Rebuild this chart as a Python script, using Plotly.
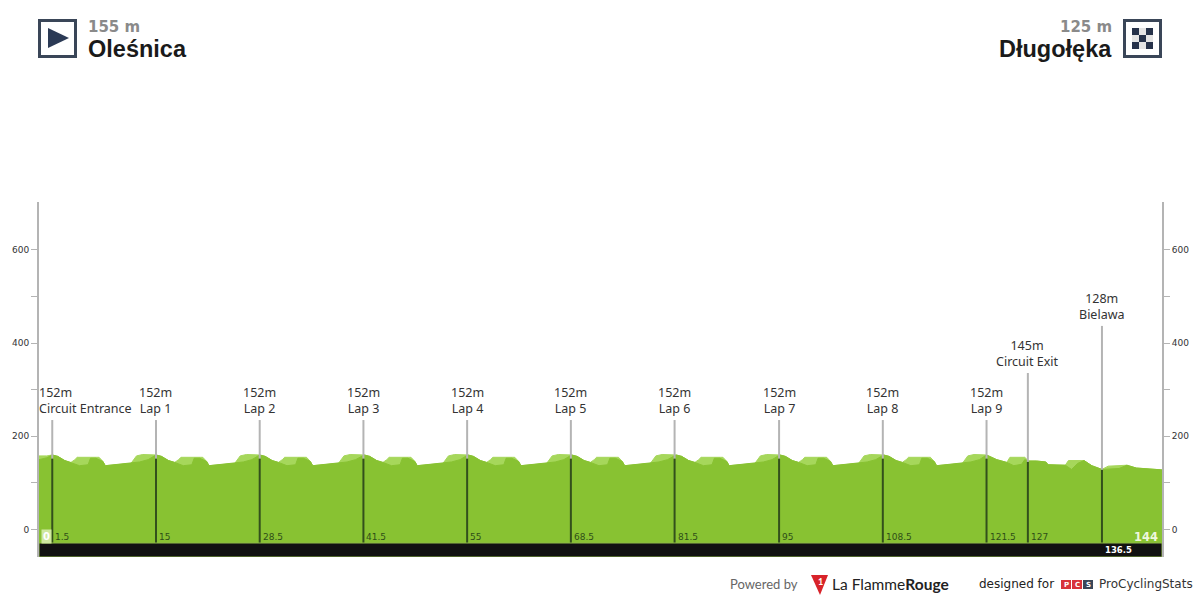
import plotly.graph_objects as go

# ---------- data ----------
LIGHT_KM = [0, 1, 1.7, 2.4, 3.3, 4.1, 4.6, 4.9, 7.7, 8.2, 8.5, 9.5, 11.8, 12.5, 13.3,
            15, 15.7, 16.6, 17.4, 17.9, 18.2, 21, 21.5, 21.8, 22.8, 25.1, 25.8, 26.6,
            28.3, 29, 29.9, 30.7, 31.2, 31.5, 34.3, 34.8, 35.1, 36.1, 38.4, 39.1, 39.9,
            41.7, 42.4, 43.3, 44.1, 44.6, 44.9, 47.7, 48.2, 48.5, 49.5, 51.8, 52.5, 53.3,
            55, 55.7, 56.6, 57.4, 57.9, 58.2, 61, 61.5, 61.8, 62.8, 65.1, 65.8, 66.6,
            68.3, 69, 69.9, 70.7, 71.2, 71.5, 74.3, 74.8, 75.1, 76.1, 78.4, 79.1, 79.9,
            81.7, 82.4, 83.3, 84.1, 84.6, 84.9, 87.7, 88.2, 88.5, 89.5, 91.8, 92.5, 93.3,
            95, 95.7, 96.6, 97.4, 97.9, 98.2, 101, 101.5, 101.8, 102.8, 105.1, 105.8, 106.6,
            108.3, 109, 109.9, 110.7, 111.2, 111.5, 114.3, 114.8, 115.1, 116.1, 118.4, 119.1, 119.9,
            121.5, 122.8, 124.1, 124.5, 126.4, 126.9, 127.9, 129.1, 129.4, 131.6, 132, 134, 135, 136.3, 137.1, 139.5, 140.7, 144]
LIGHT_M = [158, 158, 160, 157, 148, 144, 150, 155, 155, 146, 137, 139, 142, 158, 161,
           160, 157, 148, 144, 150, 155, 155, 146, 137, 139, 142, 158, 161,
           160, 157, 148, 144, 150, 155, 155, 146, 137, 139, 142, 158, 161,
           160, 157, 148, 144, 150, 155, 155, 146, 137, 139, 142, 158, 161,
           160, 157, 148, 144, 150, 155, 155, 146, 137, 139, 142, 158, 161,
           160, 157, 148, 144, 150, 155, 155, 146, 137, 139, 142, 158, 161,
           160, 157, 148, 144, 150, 155, 155, 146, 137, 139, 142, 158, 161,
           160, 157, 148, 144, 150, 155, 155, 146, 137, 139, 142, 158, 161,
           160, 157, 148, 144, 150, 155, 155, 146, 137, 139, 142, 158, 161,
           160, 150, 144, 155, 155, 147, 147, 145, 139, 138, 148, 148, 137, 129, 136, 138, 132, 128]

DARK_KM = [0, 0.5, 1, 1.7, 2.4, 3.3, 4.1, 5.2, 6.3, 6.6, 7.3, 7.7, 8.2, 8.5, 9.5, 11.8, 12.9, 14,
           15, 15.7, 16.6, 17.4, 18.5, 19.6, 19.9, 20.6, 21, 21.5, 21.8, 22.8, 25.1, 26.2, 27.3,
           28.3, 29, 29.9, 30.7, 31.8, 32.9, 33.2, 33.9, 34.3, 34.8, 35.1, 36.1, 38.4, 39.5, 40.6,
           41.7, 42.4, 43.3, 44.1, 45.2, 46.3, 46.6, 47.3, 47.7, 48.2, 48.5, 49.5, 51.8, 52.9, 54,
           55, 55.7, 56.6, 57.4, 58.5, 59.6, 59.9, 60.6, 61, 61.5, 61.8, 62.8, 65.1, 66.2, 67.3,
           68.3, 69, 69.9, 70.7, 71.8, 72.9, 73.2, 73.9, 74.3, 74.8, 75.1, 76.1, 78.4, 79.5, 80.6,
           81.7, 82.4, 83.3, 84.1, 85.2, 86.3, 86.6, 87.3, 87.7, 88.2, 88.5, 89.5, 91.8, 92.9, 94,
           95, 95.7, 96.6, 97.4, 98.5, 99.6, 99.9, 100.6, 101, 101.5, 101.8, 102.8, 105.1, 106.2, 107.3,
           108.3, 109, 109.9, 110.7, 111.8, 112.9, 113.2, 113.9, 114.3, 114.8, 115.1, 116.1, 118.4, 119.5, 120.6,
           121.5, 122.8, 124.1, 125, 126, 126.4, 126.9, 127.9, 129.1, 129.4, 131.6, 132.4, 133.2, 134, 135, 136.3, 137.1, 138.5, 139.5, 140.7, 144]
DARK_M = [150, 152, 154, 160, 157, 148, 144, 137, 139, 153, 153, 150, 146, 137, 139, 142, 145, 150,
          160, 157, 148, 144, 137, 139, 153, 153, 150, 146, 137, 139, 142, 145, 150,
          160, 157, 148, 144, 137, 139, 153, 153, 150, 146, 137, 139, 142, 145, 150,
          160, 157, 148, 144, 137, 139, 153, 153, 150, 146, 137, 139, 142, 145, 150,
          160, 157, 148, 144, 137, 139, 153, 153, 150, 146, 137, 139, 142, 145, 150,
          160, 157, 148, 144, 137, 139, 153, 153, 150, 146, 137, 139, 142, 145, 150,
          160, 157, 148, 144, 137, 139, 153, 153, 150, 146, 137, 139, 142, 145, 150,
          160, 157, 148, 144, 137, 139, 153, 153, 150, 146, 137, 139, 142, 145, 150,
          160, 157, 148, 144, 137, 139, 153, 153, 150, 146, 137, 139, 142, 145, 150,
          160, 150, 144, 137, 140, 150, 147, 147, 145, 139, 138, 129, 142, 148, 137, 129, 130, 131, 138, 132, 128]

MARKER_KM = [1.7, 15, 28.3, 41.6, 54.9, 68.2, 81.5, 94.9, 108.2, 121.5, 126.8, 136.3]
MARKER_M = [152, 152, 152, 152, 152, 152, 152, 152, 152, 152, 145, 128]
MARKER_NAMES = ["Circuit Entrance", "Lap 1", "Lap 2", "Lap 3", "Lap 4", "Lap 5", "Lap 6",
                "Lap 7", "Lap 8", "Lap 9", "Circuit Exit", "Bielawa"]
MARKER_KM_LABELS = ["1.5", "15", "28.5", "41.5", "55", "68.5", "81.5", "95", "108.5", "121.5", "127", "136.5"]
STEM_TOP = [235, 235, 235, 235, 235, 235, 235, 235, 235, 235, 336, 437]

Y_TICKS = [0, 100, 200, 300, 400, 500, 600]
Y_LABELS = ["0", "", "200", "", "400", "", "600"]

START_M, START_NAME = "155 m", "Oleśnica"
END_M, END_NAME = "125 m", "Długołęka"

# ---------- layout constants ----------
L, R, T, B = 39, 1162, 202, 557
BASE = -29
LOW = -59
DARK = "#88c232"
LIGHT = "#a6d75b"


def px(x):
    return (x - L) / (R - L)


def py(y):
    return (B - y) / (B - T)


fig = go.Figure()

# profile fills
for xs, ys, col in [(LIGHT_KM, LIGHT_M, LIGHT), (DARK_KM, DARK_M, DARK)]:
    fig.add_trace(go.Scatter(x=[0, 144], y=[BASE, BASE], mode="lines", line=dict(width=0), hoverinfo="skip"))
    fig.add_trace(go.Scatter(x=xs, y=ys, mode="lines", fill="tonexty", fillcolor=col,
                             line=dict(color=col, width=1)))

# right-hand axis carrier
fig.add_trace(go.Scatter(x=[0, 144], y=[0, 0], yaxis="y2", mode="lines", line=dict(width=0), hoverinfo="skip"))

annotations = []
shapes = []


def note(x, y, text, size, color, family, xanchor="left", bold=False, **kw):
    annotations.append(dict(xref="paper", yref="paper", x=px(x), y=py(y), text=f"<b>{text}</b>" if bold else text,
                            showarrow=False, xanchor=xanchor, yanchor="middle", borderpad=0,
                            font=dict(size=size, color=color, family=family), **kw))


# black band
shapes.append(dict(type="rect", xref="x", yref="y", x0=0, x1=144, y0=LOW, y1=BASE,
                   fillcolor="#111111", line=dict(color="#8fb84a", width=1)))

# climb / landmark stems
for km, m, top, name, lab in zip(MARKER_KM, MARKER_M, STEM_TOP, MARKER_NAMES, MARKER_KM_LABELS):
    fig.add_trace(go.Scatter(x=[km, km], y=[m, top], mode="lines", line=dict(color="#b4b4b4", width=2), hoverinfo="skip"))
    fig.add_trace(go.Scatter(x=[km, km], y=[BASE, m], mode="lines", line=dict(color="#33501c", width=2), hoverinfo="skip"))
    first = name == "Circuit Entrance"
    annotations.append(dict(xref="x", yref="y", x=0 if first else km, y=top, yshift=2, xshift=-1 if first else 0,
                            text=f"{m}m<br>{name}", showarrow=False, borderpad=0,
                            xanchor="left" if first else "center", yanchor="bottom",
                            align="left" if first else "center",
                            font=dict(size=12.5, color="#333333", family="Noto Sans")))
    if lab == "136.5":
        fig.add_trace(go.Scatter(x=[km, km], y=[LOW, BASE], mode="lines", line=dict(color="#c4c4c4", width=2), hoverinfo="skip"))
        annotations.append(dict(xref="x", yref="y", x=km, y=-44, xshift=2, text=f"<b>{lab}</b>", showarrow=False, borderpad=0,
                                xanchor="left", yanchor="middle", font=dict(size=8.5, color="#ffffff", family="DejaVu Sans")))
    else:
        annotations.append(dict(xref="x", yref="y", x=km, y=-17, xshift=2, text=lab, showarrow=False, borderpad=0,
                                xanchor="left", yanchor="middle", font=dict(size=9, color="#2f4f18", family="DejaVu Sans")))

# end-of-course numbers
annotations.append(dict(xref="x", yref="y", x=0, y=-16, xshift=2, text="<b>0</b>", showarrow=False, borderpad=1,
                        xanchor="left", yanchor="middle", bgcolor="#cfe8a0",
                        font=dict(size=10, color="#ffffff", family="DejaVu Sans")))
annotations.append(dict(xref="x", yref="y", x=144, y=-16, xshift=-3, text="<b>144</b>", showarrow=False, borderpad=0,
                        xanchor="right", yanchor="middle", font=dict(size=11.5, color="#eef7dc", family="DejaVu Sans")))

# header
NAVY = "#3a4658"
note(87, 27.2, START_M, 15, "#8a8a8a", "DejaVu Sans", bold=True)
note(87, 49.4, START_NAME, 23.5, "#1a1a1a", "Liberation Sans", bold=True)
note(1113, 27.2, END_M, 15, "#8a8a8a", "DejaVu Sans", xanchor="right", bold=True)
note(1113, 49.4, END_NAME, 23.5, "#1a1a1a", "Liberation Sans", xanchor="right", bold=True)


def rect(x0, y0, x1, y1, **kw):
    shapes.append(dict(type="rect", xref="paper", yref="paper", x0=px(x0), x1=px(x1), y0=py(y0), y1=py(y1), **kw))


rect(39.5, 20.5, 75.5, 56.5, line=dict(color=NAVY, width=3), fillcolor="#ffffff")
shapes.append(dict(type="path", xref="paper", yref="paper", fillcolor="#2b3a55", line=dict(width=0),
                   path=f"M {px(48)} {py(28)} L {px(69)} {py(38)} L {px(48)} {py(48)} Z"))
rect(1124.5, 20.5, 1160.5, 56.5, line=dict(color=NAVY, width=3), fillcolor="#ffffff")
for cx, cy, col in [(0, 0, "#26324a"), (1, 0, "#e4e4e4"), (2, 0, "#26324a"),
                    (0, 1, "#e4e4e4"), (1, 1, "#26324a"), (2, 1, "#e4e4e4"),
                    (0, 2, "#26324a"), (1, 2, "#e4e4e4"), (2, 2, "#26324a")]:
    rect(1132 + 7 * cx, 28 + 7 * cy, 1139 + 7 * cx, 35 + 7 * cy, fillcolor=col, line=dict(width=0))

# footer
note(729, 584, "Powered by", 13, "#666666", "Lato")
shapes.append(dict(type="path", xref="paper", yref="paper", fillcolor="#d8232a", line=dict(width=0),
                   path=f"M {px(811)} {py(575)} L {px(828)} {py(575)} L {px(820)} {py(595)} Z"))
note(820, 581, "1", 9, "#ffffff", "Lato", xanchor="center", bold=True)
note(831, 584, "La Flamme<b>Rouge</b>", 15.5, "#222222", "Lato")
note(978, 584, "designed for", 12, "#222222", "DejaVu Sans")
for x0, ch, col in [(1061, "P", "#d8323a"), (1072, "C", "#d8323a"), (1083, "S", "#3a4658")]:
    rect(x0, 580, x0 + 10, 589, fillcolor=col, line=dict(width=0))
    note(x0 + 5, 584.5, ch, 7, "#ffffff", "DejaVu Sans", xanchor="center", bold=True)
note(1098, 584, "ProCyclingStats", 12, "#333333", "DejaVu Sans")

axis_common = dict(range=[LOW, 703], tickmode="array", tickvals=Y_TICKS, ticktext=Y_LABELS,
                   ticks="outside", ticklen=6, tickcolor="#b4b4b4", tickwidth=1,
                   showline=True, linecolor="#b4b4b4", linewidth=2, showgrid=False, zeroline=False,
                   tickfont=dict(size=9, color="#333333", family="DejaVu Sans"))

fig.update_layout(
    width=1200, height=600, showlegend=False,
    margin=dict(l=L, r=1200 - R, t=T, b=600 - B, pad=0),
    paper_bgcolor="#ffffff", plot_bgcolor="#ffffff",
    xaxis=dict(range=[0, 144], visible=False, fixedrange=True),
    yaxis=dict(side="left", fixedrange=True, **axis_common),
    yaxis2=dict(side="right", overlaying="y", fixedrange=True, **axis_common),
    annotations=annotations, shapes=shapes,
)

fig.write_html("out.html", config={"displayModeBar": False}, post_script="document.body.style.margin='0';")
